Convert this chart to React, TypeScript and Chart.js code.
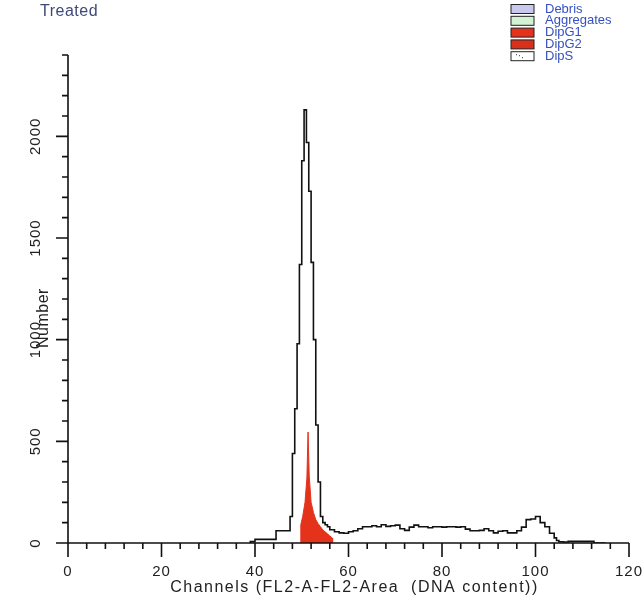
import React, { useEffect, useRef } from "react";
import { Chart, registerables } from "chart.js";

Chart.register(...registerables);

// Channel bin starts and counts for the measured histogram (black line)
const dataChannels = [39, 40, 44.5, 47.5, 48, 48.5, 49, 49.5, 50, 50.5, 51, 51.5, 52, 52.5, 53, 53.5, 54, 54.5, 55, 55.5, 56, 57, 58, 59, 60, 61, 62, 63, 64, 65, 66, 67, 68, 69, 70, 71, 72, 73, 74, 75, 76, 77, 78, 79, 80, 81, 82, 83, 84, 85, 86, 87, 88, 89, 90, 91, 92, 93, 94, 95, 96, 97, 98, 99, 100, 101, 102, 103, 104, 104.5, 105, 106, 107, 112.5, 114, 115];
const dataCounts = [0, 7, 18, 60, 130, 440, 660, 980, 1370, 1880, 2130, 1970, 1730, 1380, 1000, 580, 300, 130, 100, 90, 80, 65, 55, 50, 48, 55, 60, 70, 80, 80, 85, 80, 90, 82, 85, 88, 70, 62, 78, 88, 80, 80, 75, 80, 80, 78, 80, 80, 78, 80, 68, 60, 60, 62, 70, 60, 50, 58, 60, 50, 50, 60, 78, 115, 118, 130, 100, 80, 48, 25, 12, 6, 5, 8, 0, 0];

// DipG1 fitted component (red)
const g1Channels = [49.7, 49.8, 50.2, 50.7, 51.1, 51.35, 51.6, 52.0, 52.5, 53.0, 53.5, 54.0, 54.5, 55.0, 55.5, 56.0, 56.5, 56.6];
const g1Counts = [0, 90, 130, 200, 320, 546, 330, 200, 150, 115, 95, 80, 65, 55, 45, 35, 25, 0];

// Axes
const xMin = 0, xMax = 120;
const yMin = 0, yMax = 2400;
const xMajorTicks = [0, 20, 40, 60, 80, 100, 120];
const xMinorStep = 4;
const yMajorTicks = [0, 500, 1000, 1500, 2000];
const yMinorStep = 100;

const titleText = "Treated";
const xTitle = "Channels (FL2-A-FL2-Area  (DNA content))";
const yTitle = "Number";

const legendLabels = ["Debris", "Aggregates", "DipG1", "DipG2", "DipS"];
const legendColors = ["#c9c8ef", "#d3f1d3", "#e4321b", "#d9301c", "#ffffff"];

const FONT = "'Liberation Sans', Arial, sans-serif";

const axesPlugin = {
  id: "customAxes",
  afterDraw(chart: any) {
    const { ctx, scales } = chart;
    const xs = scales.x, ys = scales.y;
    const x0 = xs.getPixelForValue(xMin);
    const x1 = xs.getPixelForValue(xMax);
    const y0 = ys.getPixelForValue(yMin);
    const yTop = ys.getPixelForValue(yMax);
    ctx.save();
    ctx.strokeStyle = "#111";
    ctx.lineWidth = 1.6;
    ctx.beginPath();
    ctx.moveTo(x0, yTop);
    ctx.lineTo(x0, y0);
    ctx.moveTo(x0, y0);
    ctx.lineTo(x1, y0);
    ctx.stroke();

    // x ticks
    ctx.beginPath();
    for (let v = xMin; v <= xMax + 0.001; v += xMinorStep) {
      const px = xs.getPixelForValue(v);
      const major = xMajorTicks.includes(v);
      ctx.moveTo(px, y0);
      ctx.lineTo(px, y0 + (major ? 14 : 6));
    }
    // y ticks
    for (let v = yMin; v <= yMax + 0.001; v += yMinorStep) {
      const py = ys.getPixelForValue(v);
      const major = yMajorTicks.includes(v);
      ctx.moveTo(x0, py);
      ctx.lineTo(x0 - (major ? 12 : 6), py);
    }
    ctx.stroke();

    // x tick labels
    ctx.fillStyle = "#222";
    ctx.font = `15px ${FONT}`;
    (ctx as any).letterSpacing = "1px";
    ctx.textAlign = "center";
    ctx.textBaseline = "middle";
    xMajorTicks.forEach((v) => {
      ctx.fillText(String(v), xs.getPixelForValue(v), y0 + 29);
    });
    // x title
    ctx.font = `16px ${FONT}`;
    (ctx as any).letterSpacing = "1.5px";
    ctx.fillText(xTitle, (x0 + x1) / 2 + 6, y0 + 45);

    // y tick labels (rotated)
    ctx.font = `15px ${FONT}`;
    (ctx as any).letterSpacing = "1px";
    yMajorTicks.forEach((v) => {
      const py = ys.getPixelForValue(v);
      ctx.save();
      ctx.translate(36, py);
      ctx.rotate(-Math.PI / 2);
      ctx.fillText(String(v), 0, 0);
      ctx.restore();
    });
    // y title
    ctx.save();
    ctx.font = `16px ${FONT}`;
    (ctx as any).letterSpacing = "0.5px";
    ctx.translate(44, 318);
    ctx.rotate(-Math.PI / 2);
    ctx.fillText(yTitle, 0, 0);
    ctx.restore();

    // chart title
    ctx.fillStyle = "#3d4a78";
    ctx.font = `16px ${FONT}`;
    (ctx as any).letterSpacing = "0.5px";
    ctx.textAlign = "left";
    ctx.fillText(titleText, 40, 12);

    // legend
    ctx.font = `13px ${FONT}`;
    (ctx as any).letterSpacing = "0px";
    legendLabels.forEach((lab, i) => {
      const cy = 9 + i * 11.8;
      ctx.fillStyle = legendColors[i];
      ctx.fillRect(511, cy - 4.5, 23, 9);
      ctx.lineWidth = 1;
      ctx.strokeStyle = "#222";
      ctx.strokeRect(511, cy - 4.5, 23, 9);
      if (i === 4) {
        ctx.fillStyle = "#333";
        ctx.fillRect(516, cy - 2, 1, 1);
        ctx.fillRect(519, cy - 1, 1, 1);
        ctx.fillRect(522, cy + 1, 1, 1);
      }
      ctx.fillStyle = "#3650c0";
      ctx.fillText(lab, 545, cy);
    });
    ctx.restore();
  },
};

export default function App() {
  const ref = useRef<HTMLCanvasElement | null>(null);
  useEffect(() => {
    document.body.style.margin = "0";
    const canvas = ref.current!;
    const chart = new Chart(canvas, {
      type: "line",
      data: {
        datasets: [
          {
            label: "Data",
            data: dataChannels.map((c, i) => ({ x: c, y: dataCounts[i] })),
            borderColor: "#111",
            borderWidth: 1.6,
            pointRadius: 0,
            stepped: "after",
            fill: false,
          },
          {
            label: "DipG1",
            data: g1Channels.map((c, i) => ({ x: c, y: g1Counts[i] })),
            borderColor: "#e4321b",
            backgroundColor: "#e4321b",
            borderWidth: 1,
            pointRadius: 0,
            fill: "origin",
          },
        ],
      },
      options: {
        animation: false,
        responsive: false,
        maintainAspectRatio: false,
        layout: { padding: { left: 68, right: 13, top: 55, bottom: 65 } },
        plugins: { legend: { display: false }, tooltip: { enabled: false }, title: { display: false } },
        scales: {
          x: { type: "linear", min: xMin, max: xMax, display: false },
          y: { type: "linear", min: yMin, max: yMax, display: false },
        },
      },
      plugins: [axesPlugin],
    });
    return () => chart.destroy();
  }, []);
  return (
    <div style={{ position: "absolute", left: 0, top: 0, width: 642, height: 608, background: "#fff" }}>
      <canvas ref={ref} width={642} height={608} style={{ display: "block" }} />
    </div>
  );
}
